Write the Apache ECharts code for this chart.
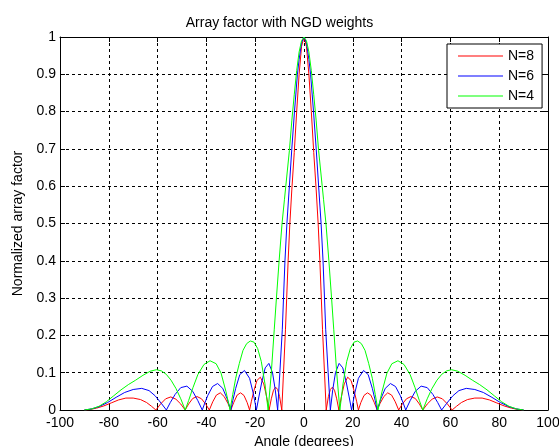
<!DOCTYPE html>
<html>
<head>
<meta charset="utf-8">
<script src="https://cdn.jsdelivr.net/npm/echarts@6.0.0/dist/echarts.min.js"></script>
<style>
  html, body { margin: 0; padding: 0; background: #fff; }
  #main { width: 559px; height: 446px; }
</style>
</head>
<body>
<div id="main"></div>
<script>
// tick labels
const xTicks = [-100, -80, -60, -40, -20, 0, 20, 40, 60, 80, 100];
const yTicks = [0, 0.1, 0.2, 0.3, 0.4, 0.5, 0.6, 0.7, 0.8, 0.9, 1];

// N=8 (red) - angle in degrees, normalized array factor
const n8Angles = [-90,-88,-85,-82,-79,-76,-73,-70,-67,-64.5,-62.5,-60.7,-58.8,-56.7,-54.6,-52.5,-50.5,-48.7,-47.3,-45.6,-43.8,-42,-40.2,-38.8,-37.4,-35.9,-34.3,-32.7,-31.2,-30,-28.8,-27.4,-26,-24.6,-23.3,-22.3,-21.6,-20.6,-19.3,-17.9,-16.5,-15.3,-14.3,-13.4,-12.5,-11.6,-10.8,-10,-9.1,-8.4,-7.6,-7.1,-6.5,-5.8,-5,-4,-3,-2,-1,
  0,1,2,3,4,5,5.8,6.5,7.1,7.6,8.4,9.1,10,10.8,11.6,12.5,13.4,14.3,15.3,16.5,17.9,19.3,20.6,21.6,22.3,23.3,24.6,26,27.4,28.8,30,31.2,32.7,34.3,35.9,37.4,38.8,40.2,42,43.8,45.6,47.3,48.7,50.5,52.5,54.6,56.7,58.8,60.7,62.5,64.5,67,70,73,76,79,82,85,88,90];
const n8Values = [0,0.001,0.005,0.011,0.019,0.027,0.032,0.032,0.028,0.02,0.01,0,0.016,0.03,0.035,0.029,0.016,0,0.016,0.031,0.036,0.03,0.015,0,0.022,0.04,0.046,0.036,0.018,0,0.02,0.04,0.046,0.039,0.02,0,0.022,0.05,0.079,0.088,0.07,0.035,0,0.03,0.053,0.061,0.055,0.036,0,0.1,0.215,0.3,0.4,0.5,0.59,0.69,0.8,0.9,0.975,
  1,0.975,0.9,0.8,0.69,0.59,0.5,0.4,0.3,0.215,0.1,0,0.036,0.055,0.061,0.053,0.03,0,0.035,0.07,0.088,0.079,0.05,0.022,0,0.02,0.039,0.046,0.04,0.02,0,0.018,0.036,0.046,0.04,0.022,0,0.015,0.03,0.036,0.031,0.016,0,0.016,0.029,0.035,0.03,0.016,0,0.01,0.02,0.028,0.032,0.032,0.027,0.019,0.011,0.005,0.001,0];

// N=6 (blue)
const n6Angles = [-90,-87,-84,-80.5,-77,-73.5,-70,-66.5,-63.5,-61,-58.5,-56.4,-54.8,-52.8,-50.5,-48,-45.6,-43.5,-41.7,-40.8,-39.5,-37.5,-35.4,-33.3,-31.5,-30,-29.2,-28,-26.3,-24.4,-22.3,-20.8,-19.5,-18.5,-17.3,-15.9,-14.4,-12.9,-11.8,-10.8,-9.9,-8.9,-8.4,-7.8,-7,-6,-5,-3.9,-2.7,-2,-1,
  0,1,2,2.7,3.9,5,6,7,7.8,8.4,8.9,9.9,10.8,11.8,12.9,14.4,15.9,17.3,18.5,19.5,20.8,22.3,24.4,26.3,28,29.2,30,31.5,33.3,35.4,37.5,39.5,40.8,41.7,43.5,45.6,48,50.5,52.8,54.8,56.4,58.5,61,63.5,66.5,70,73.5,77,80.5,84,87,90];
const n6Values = [0,0.003,0.009,0.02,0.034,0.047,0.055,0.058,0.052,0.038,0.018,0,0.02,0.042,0.06,0.064,0.05,0.025,0,0.016,0.038,0.063,0.071,0.058,0.03,0,0.025,0.058,0.095,0.106,0.085,0.045,0,0.035,0.075,0.113,0.125,0.1,0.055,0,0.1,0.215,0.3,0.4,0.5,0.6,0.7,0.8,0.9,0.94,0.985,
  1,0.985,0.94,0.9,0.8,0.7,0.6,0.5,0.4,0.3,0.215,0.1,0,0.055,0.1,0.125,0.113,0.075,0.035,0,0.045,0.085,0.106,0.095,0.058,0.025,0,0.03,0.058,0.071,0.063,0.038,0.016,0,0.025,0.05,0.064,0.06,0.042,0.02,0,0.018,0.038,0.052,0.058,0.055,0.047,0.034,0.02,0.009,0.003,0];

// N=4 (green)
const n4Angles = [-90,-87,-84,-81,-78,-75,-72,-69,-66,-63,-60.5,-58.5,-56.5,-54.5,-52.5,-50.5,-48.7,-47.3,-45.5,-43.5,-41,-38.5,-36,-34,-32,-30.3,-29.2,-28,-26.5,-25,-23.5,-22,-20.5,-19,-17.5,-16,-14.7,-13.4,-12.2,-11.3,-10.2,-9,-8,-7,-6,-5,-4,-3,-2,-1,
  0,1,2,3,4,5,6,7,8,9,10.2,11.3,12.2,13.4,14.7,16,17.5,19,20.5,22,23.5,25,26.5,28,29.2,30.3,32,34,36,38.5,41,43.5,45.5,47.3,48.7,50.5,52.5,54.5,56.5,58.5,60.5,63,66,69,72,75,78,81,84,87,90];
const n4Values = [0,0.003,0.01,0.022,0.038,0.054,0.068,0.08,0.093,0.104,0.108,0.105,0.096,0.08,0.058,0.03,0,0.025,0.06,0.095,0.122,0.132,0.124,0.099,0.05,0,0.042,0.085,0.125,0.16,0.178,0.185,0.182,0.165,0.13,0.07,0,0.1,0.215,0.3,0.4,0.5,0.565,0.63,0.695,0.775,0.845,0.91,0.96,0.99,
  1,0.99,0.96,0.91,0.845,0.775,0.695,0.63,0.565,0.5,0.4,0.3,0.215,0.1,0,0.07,0.13,0.165,0.182,0.185,0.178,0.16,0.125,0.085,0.042,0,0.05,0.099,0.124,0.132,0.122,0.095,0.06,0.025,0,0.03,0.058,0.08,0.096,0.105,0.108,0.104,0.093,0.08,0.068,0.054,0.038,0.022,0.01,0.003,0];

const seriesNames = ['N=8', 'N=6', 'N=4'];
const seriesColors = ['#ff0000', '#0000ff', '#00ff00'];

const font = "'Liberation Sans', Arial, sans-serif";

function pairs(xs, ys) {
  return xs.map((x, i) => [x, ys[i]]);
}

const gridLine = { show: true, lineStyle: { color: '#000', width: 1, type: [3, 3] } };
const boxLine = { show: true, onZero: false, lineStyle: { color: '#000', width: 1 } };
const tickIn = { show: true, inside: true, length: 5, lineStyle: { color: '#000' } };

const xBase = {
  type: 'value',
  min: xTicks[0],
  max: xTicks[xTicks.length - 1],
  interval: xTicks[1] - xTicks[0],
  axisLine: boxLine,
  axisTick: tickIn,
};
const yBase = {
  type: 'value',
  min: yTicks[0],
  max: yTicks[yTicks.length - 1],
  interval: 0.1,
  axisLine: boxLine,
  axisTick: tickIn,
};

const chart = echarts.init(document.getElementById('main'), null, { renderer: 'canvas' });
const option = {
  animation: false,
  backgroundColor: '#fff',
  textStyle: { fontFamily: font, color: '#000' },
  title: {
    text: 'Array factor with NGD weights',
    left: 'center',
    top: 11,
    textStyle: { fontFamily: font, fontSize: 14, fontWeight: 'normal', color: '#000' }
  },
  grid: { left: 60, right: 11, top: 37, bottom: 36, outerBoundsMode: 'none', containLabel: false },
  legend: {
    data: seriesNames.map((n) => ({ name: n, icon: 'rect' })),
    orient: 'vertical',
    left: 447,
    top: 44,
    itemWidth: 45,
    itemHeight: 1,
    itemGap: 6,
    padding: [5, 8, 5, 11],
    backgroundColor: '#fff',
    borderColor: '#000',
    borderWidth: 1,
    borderRadius: 0,
    textStyle: { fontFamily: font, fontSize: 14, color: '#000', lineHeight: 14 }
  },
  xAxis: [
    Object.assign({}, xBase, {
      position: 'bottom',
      name: 'Angle (degrees)',
      nameLocation: 'middle',
      nameGap: 22,
      nameTextStyle: { fontFamily: font, fontSize: 14, color: '#000' },
      splitLine: gridLine,
      axisLabel: { show: true, margin: 6, fontFamily: font, fontSize: 14, color: '#000' }
    }),
    Object.assign({}, xBase, {
      position: 'top',
      splitLine: { show: false },
      axisLabel: { show: false }
    })
  ],
  yAxis: [
    Object.assign({}, yBase, {
      position: 'left',
      name: 'Normalized array factor',
      nameLocation: 'middle',
      nameGap: 35,
      nameTextStyle: { fontFamily: font, fontSize: 14, color: '#000' },
      splitLine: gridLine,
      axisLabel: { show: true, margin: 4, fontFamily: font, fontSize: 14, color: '#000' }
    }),
    Object.assign({}, yBase, {
      position: 'right',
      splitLine: { show: false },
      axisLabel: { show: false }
    })
  ],
  series: [
    { data: pairs(n8Angles, n8Values) },
    { data: pairs(n6Angles, n6Values) },
    { data: pairs(n4Angles, n4Values) }
  ].map((s, i) => ({
    name: seriesNames[i],
    type: 'line',
    xAxisIndex: 0,
    yAxisIndex: 0,
    symbol: 'none',
    showSymbol: false,
    data: s.data,
    color: seriesColors[i],
    lineStyle: { color: seriesColors[i], width: 1 },
    z: 3 + i
  }))
};
chart.setOption(option);
</script>
</body>
</html>
